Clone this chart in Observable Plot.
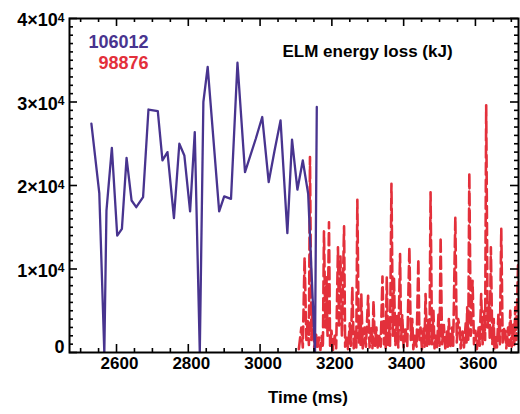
<!DOCTYPE html>
<html>
<head>
<meta charset="utf-8">
<script src="https://cdn.jsdelivr.net/npm/d3@7"></script>
<script src="https://cdn.jsdelivr.net/npm/@observablehq/plot@0.6"></script>
<style>
  html, body { margin: 0; padding: 0; background: #fff; }
</style>
</head>
<body>
<div id="chart"></div>
<script>
// ---- Data ----
const blueShot = "106012";
const redShot = "98876";
const chartTitle = "ELM energy loss (kJ)";
const xLabel = "Time (ms)";

const blueTime = [2530, 2552, 2566, 2572, 2587, 2602, 2615, 2628, 2642, 2655, 2674, 2689, 2715, 2728, 2742, 2760, 2775, 2789, 2805, 2818, 2832, 2842, 2854, 2886, 2900, 2919, 2937, 2958, 2988, 3006, 3024, 3040, 3057, 3076, 3089, 3104, 3119, 3134, 3153, 3158];
const blueEnergy = [27400, 19100, 0, 17000, 24500, 14000, 14800, 23300, 18200, 17400, 18600, 29100, 28900, 23000, 24000, 16100, 25000, 23600, 16900, 26400, 0, 30000, 34200, 16900, 18700, 18400, 34700, 21600, 25600, 28200, 20400, 24100, 27800, 14300, 25500, 19500, 23000, 19000, 0, 29400];

const redTime = [3108, 3115, 3119, 3124, 3129, 3133, 3136, 3139, 3143, 3147, 3151, 3156, 3160, 3164, 3168, 3172, 3175, 3178, 3182, 3185, 3188, 3192, 3195, 3199, 3203, 3208, 3212, 3217, 3220, 3224, 3228, 3234, 3237, 3241, 3245, 3250, 3253, 3257, 3261, 3266, 3268, 3271, 3275, 3278, 3280, 3282, 3286, 3291, 3295, 3301, 3305, 3310, 3313, 3316, 3320, 3324, 3328, 3332, 3336, 3341, 3345, 3349, 3350, 3353, 3357, 3360, 3362, 3366, 3370, 3373, 3377, 3382, 3385, 3390, 3393, 3396, 3400, 3405, 3410, 3416, 3420, 3424, 3427, 3431, 3436, 3441, 3444, 3447, 3451, 3455, 3458, 3461, 3465, 3469, 3472, 3475, 3479, 3483, 3486, 3489, 3493, 3497, 3500, 3503, 3507, 3512, 3516, 3521, 3523, 3526, 3530, 3535, 3538, 3544, 3548, 3552, 3556, 3559, 3564, 3568, 3573, 3575, 3577, 3580, 3583, 3587, 3592, 3596, 3600, 3604, 3609, 3612, 3616, 3620, 3625, 3627, 3630, 3634, 3638, 3640, 3643, 3647, 3651, 3653, 3655, 3660, 3664, 3668, 3672, 3676, 3680, 3683, 3686, 3691, 3694, 3697, 3701, 3705, 3708, 3711, 3714, 3719];
const redEnergy = [400, 3000, 600, 11400, 1500, 4000, 900, 23400, 1500, 6000, 500, 2200, 400, 1800, 300, 2000, 600, 14500, 3000, 9000, 2000, 15600, 800, 2600, 300, 2000, 500, 12600, 3000, 11500, 2000, 15100, 700, 2000, 400, 3500, 800, 7800, 500, 2500, 600, 18300, 1200, 3500, 900, 7000, 500, 3000, 700, 6800, 600, 3000, 500, 6200, 800, 3000, 400, 2000, 700, 9100, 1000, 4000, 500, 9000, 700, 3000, 800, 20200, 2000, 9000, 800, 4500, 600, 11800, 1500, 4500, 600, 3000, 700, 12600, 1500, 4000, 400, 2000, 700, 11200, 1500, 3000, 400, 3000, 700, 7000, 800, 4000, 1000, 19200, 1000, 5000, 500, 2000, 600, 4500, 800, 13800, 1000, 3300, 500, 2500, 700, 4000, 500, 3000, 800, 16200, 1200, 4000, 3000, 500, 2500, 600, 3500, 900, 5400, 1500, 21500, 2000, 8600, 1000, 2600, 400, 3000, 800, 7000, 1000, 5000, 1500, 29600, 3000, 6000, 1500, 12600, 1000, 4000, 500, 2000, 600, 4500, 1000, 14800, 1000, 3000, 2600, 500, 3000, 800, 5000, 700, 3500, 900, 5400, 1500, 11000];

// Axis ticks
const xMajorTicks = [2600, 2800, 3000, 3200, 3400, 3600];
const xMinorTicks = [2500, 2550, 2650, 2700, 2750, 2850, 2900, 2950, 3050, 3100, 3150, 3250, 3300, 3350, 3450, 3500, 3550, 3650, 3700];
const yMajorTicks = [0, 10000, 20000, 30000, 40000];
const yMajorLabels = ["0", "1×10⁴", "2×10⁴", "3×10⁴", "4×10⁴"];
const yMinorTicks = [1000,2000,3000,4000,5000,6000,7000,8000,9000,11000,12000,13000,14000,15000,16000,17000,18000,19000,21000,22000,23000,24000,25000,26000,27000,28000,29000,31000,32000,33000,34000,35000,36000,37000,38000,39000];

// ---- Layout ----
const W = 520, H = 414;
const mL = 69, mR = 2, mT = 18, mB = 62;
const pW = W - mL - mR, pH = H - mT - mB;
const font = "'Liberation Sans', Arial, Helvetica, sans-serif";
const blueColor = "#48348f";
const redColor = "#e3303b";

const blue = blueTime.map((t, i) => ({t, e: blueEnergy[i]}));
const red = redTime.map((t, i) => ({t, e: redEnergy[i]}));

const majLen = 8, minLen = 4;

const chart = Plot.plot({
  width: W,
  height: H,
  marginLeft: mL,
  marginRight: mR,
  marginTop: mT,
  marginBottom: mB,
  style: {fontFamily: font, background: "#fff", color: "#000"},
  x: {domain: [2469, 3720]},
  y: {domain: [0, 40000]},
  marks: [
    Plot.line(red, {x: "t", y: "e", stroke: redColor, strokeWidth: 2.6, strokeDasharray: "12,5", clip: true}),
    Plot.line(blue, {x: "t", y: "e", stroke: blueColor, strokeWidth: 2.3, clip: true}),
    // bottom ticks (inward)
    Plot.tickX(xMinorTicks, {x: d => d, insetTop: pH - minLen, stroke: "#000", strokeWidth: 1.6}),
    Plot.tickX(xMajorTicks, {x: d => d, insetTop: pH - majLen, stroke: "#000", strokeWidth: 1.6}),
    // top ticks
    Plot.tickX(xMinorTicks, {x: d => d, insetBottom: pH - minLen, stroke: "#000", strokeWidth: 1.6}),
    Plot.tickX(xMajorTicks, {x: d => d, insetBottom: pH - majLen, stroke: "#000", strokeWidth: 1.6}),
    // left ticks
    Plot.tickY(yMinorTicks, {y: d => d, insetRight: pW - minLen, stroke: "#000", strokeWidth: 1.6}),
    Plot.tickY(yMajorTicks, {y: d => d, insetRight: pW - majLen, stroke: "#000", strokeWidth: 1.6}),
    // right ticks
    Plot.tickY(yMinorTicks, {y: d => d, insetLeft: pW - minLen, stroke: "#000", strokeWidth: 1.6}),
    Plot.tickY(yMajorTicks, {y: d => d, insetLeft: pW - majLen, stroke: "#000", strokeWidth: 1.6}),
    Plot.frame({stroke: "#000", strokeWidth: 2}),
    Plot.axisX(xMajorTicks, {tickSize: 0, tickPadding: 4, dx: 3, label: null, tickFormat: d => String(d), fontSize: 17, fontWeight: "bold", fill: "#000"}),
    Plot.axisY(yMajorTicks, {tickSize: 0, tickPadding: 5, dy: 2, label: null, tickFormat: d => yMajorLabels[yMajorTicks.indexOf(d)], fontSize: 18, fontWeight: "bold", fill: "#000"}),
    Plot.text([xLabel], {frameAnchor: "bottom", dx: 14, dy: 50, fontSize: 17, fontWeight: "bold", fill: "#000"}),
    Plot.text([chartTitle], {frameAnchor: "top-left", dx: 213, dy: 26, textAnchor: "start", fontSize: 17, fontWeight: "bold", fill: "#000"}),
    Plot.text([blueShot], {frameAnchor: "top-left", dx: 79, dy: 17, textAnchor: "end", fontSize: 18, fontWeight: "bold", fill: blueColor}),
    Plot.text([redShot], {frameAnchor: "top-left", dx: 79, dy: 38, textAnchor: "end", fontSize: 18, fontWeight: "bold", fill: redColor})
  ]
});

// Render the power-of-ten exponent as a proper superscript (still real text),
// and lift the "0" label above the bottom axis as in the original.
chart.querySelectorAll("g[aria-label='y-axis tick label'] text").forEach(t => {
  const s = t.textContent;
  if (s === "0") {
    t.setAttribute("transform", (t.getAttribute("transform") || "") + " translate(0,-7)");
    return;
  }
  const m = s.match(/^(.*10)⁴$/);
  if (!m) return;
  t.textContent = "";
  const ns = "http://www.w3.org/2000/svg";
  const base = document.createElementNS(ns, "tspan");
  base.textContent = m[1];
  const sup = document.createElementNS(ns, "tspan");
  sup.textContent = "4";
  sup.setAttribute("font-size", "12");
  sup.setAttribute("dy", "-4.5");
  t.appendChild(base);
  t.appendChild(sup);
});

document.getElementById("chart").appendChild(chart);
</script>
</body>
</html>
